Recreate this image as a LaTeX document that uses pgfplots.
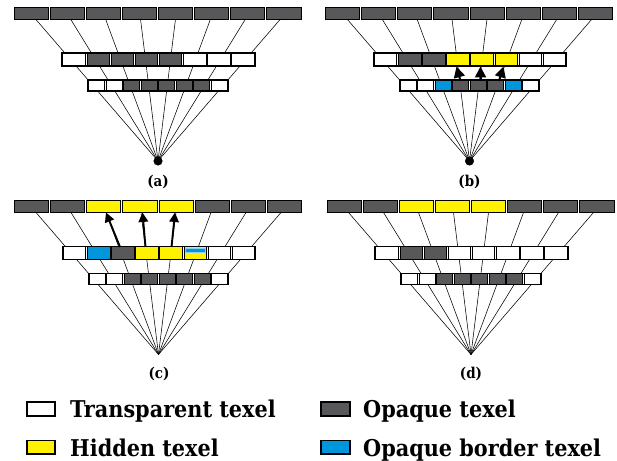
\documentclass[border=0pt]{standalone}
\usepackage{fontspec}
\setmainfont{DejaVu Serif Condensed}
\usepackage{pgfplots}
\pgfplotsset{compat=1.18}
\usetikzlibrary{arrows.meta}
\definecolor{G}{HTML}{58585A}
\definecolor{Y}{HTML}{FFF200}
\definecolor{B}{HTML}{0096DB}
\definecolor{W}{HTML}{FFFFFF}

% rectangle from axis coordinates
\newcommand\rect[6]{%
  \edef\myplottmp{\noexpand\addplot[fill=#5,draw=black,line width=#6] coordinates {(#1,#2) (#3,#2) (#3,#4) (#1,#4)} -- cycle;}\myplottmp}
\newcommand\frm[5]{%
  \edef\myplottmp{\noexpand\addplot[draw=black,line width=#5] coordinates {(#1,#2) (#3,#2) (#3,#4) (#1,#4)} -- cycle;}\myplottmp}
% row of cells: x0, pitch, gap, ytop, ybot, colours, line width
\newcommand\drawrow[7]{%
  \def\rowi{0}%
  \pgfplotsforeachungrouped \c in {#6}{%
    \pgfmathsetmacro\xa{#1+\rowi*#2+#3/2}%
    \pgfmathsetmacro\xb{#1+(\rowi+1)*#2-#3/2}%
    \rect{\xa}{#4}{\xb}{#5}{\c}{#7}%
    \pgfmathsetmacro\rowi{\rowi+1}%
  }}
% panel: dx, dy, top, middle, bottom colours, dot
\newcommand\panel[6]{%
  \pgfmathsetmacro\ax{158+#1}\pgfmathsetmacro\ay{161+#2}%
  \pgfmathsetmacro\ty{19+#2}%
  \pgfplotsforeachungrouped \i in {0,...,7}{%
    \pgfmathsetmacro\tx{158+(\i-3.5)*35+#1}%
    \edef\myplottmp{\noexpand\addplot[black,line width=0.55pt] coordinates {(\ax,\ay) (\tx,\ty)};}\myplottmp}%
  % top row
  \pgfmathsetmacro\ya{7+#2}\pgfmathsetmacro\yb{19+#2}\pgfmathsetmacro\xo{13+#1}%
  \drawrow{\xo}{36.125}{2}{\ya}{\yb}{#3}{0.8pt}%
  % middle row
  \pgfmathsetmacro\ya{53+#2}\pgfmathsetmacro\yb{66+#2}\pgfmathsetmacro\xo{62+#1}\pgfmathsetmacro\xe{255+#1}%
  \drawrow{\xo}{24.125}{1.6}{\ya}{\yb}{#4}{0.8pt}%
  \frm{\xo}{\ya}{\xe}{\yb}{1.5pt}%
  % bottom row
  \pgfmathsetmacro\ya{80+#2}\pgfmathsetmacro\yb{91+#2}\pgfmathsetmacro\xo{88+#1}\pgfmathsetmacro\xe{228+#1}%
  \drawrow{\xo}{17.5}{1.5}{\ya}{\yb}{#5}{0.8pt}%
  \frm{\xo}{\ya}{\xe}{\yb}{1.5pt}%
  \ifnum#6=1
    \edef\myplottmp{\noexpand\addplot[only marks,mark=*,mark size=4.3pt,black] coordinates {(\ax,\ay)};}\myplottmp
  \fi}

\begin{document}
\begin{tikzpicture}
\begin{axis}[x=1bp, y=1bp, y dir=reverse, xmin=0, xmax=617, ymin=0, ymax=461,
  hide axis, clip=false]
\addplot[draw=none] coordinates {(0,0) (617,461)};
% (a)
\panel{0}{0}{G,G,G,G,G,G,G,G}{W,G,G,G,G,W,W,W}{W,W,G,G,G,G,G,W}{1}
% (b)
\panel{311.5}{0}{G,G,G,G,G,G,G,G}{W,G,G,Y,Y,Y,W,W}{W,W,B,G,G,G,B,W}{1}
% (c)
\panel{0.5}{193.5}{G,G,Y,Y,Y,G,G,G}{W,B,G,Y,Y,Y,W,W}{W,W,G,G,G,G,G,W}{0}
\addplot[fill=B,draw=B!45,line width=0.5pt] coordinates {(185.5,248.5) (204.8,248.5) (204.8,252.5) (185.5,252.5)} -- cycle;
% (d)
\panel{313}{193.5}{G,G,Y,Y,Y,G,G,G}{W,G,G,W,W,W,W,W}{W,W,G,G,G,G,G,W}{0}
% arrows (b)
\addplot[black,line width=2pt,-{Triangle[length=11pt,width=11pt]}] coordinates {(460.5,81) (456.5,66.5)};
\addplot[black,line width=2pt,-{Triangle[length=11pt,width=11pt]}] coordinates {(480.5,81) (480.5,66.5)};
\addplot[black,line width=2pt,-{Triangle[length=11pt,width=11pt]}] coordinates {(499,81) (503.5,66.5)};
% arrows (c)
\addplot[black,line width=1.9pt,-{Triangle[length=9.5pt,width=9.5pt]}] coordinates {(120,247) (106,212.5)};
\addplot[black,line width=1.9pt,-{Triangle[length=9.5pt,width=9.5pt]}] coordinates {(145.5,247) (142.5,212.5)};
\addplot[black,line width=1.9pt,-{Triangle[length=9.5pt,width=9.5pt]}] coordinates {(171.5,247) (175,212.5)};
% panel labels
\node[font=\bfseries\fontsize{15}{16}\selectfont] at (axis cs:158,182) {(a)};
\node[font=\bfseries\fontsize{15}{16}\selectfont] at (axis cs:469.5,182) {(b)};
\node[font=\bfseries\fontsize{15}{16}\selectfont] at (axis cs:159,374) {(c)};
\node[font=\bfseries\fontsize{15}{16}\selectfont] at (axis cs:471,374) {(d)};
% legend
\rect{27}{402}{55}{416}{W}{1.3pt}
\rect{27}{440.5}{55}{454}{Y}{1.3pt}
\rect{321}{402}{350}{416}{G}{1.3pt}
\rect{321}{440.5}{350}{454}{B}{1.3pt}
\node[anchor=base west,inner sep=0pt,font=\bfseries\fontsize{23.2}{24}\selectfont] at (axis cs:70,417) {Transparent texel};
\node[anchor=base west,inner sep=0pt,font=\bfseries\fontsize{23.2}{24}\selectfont] at (axis cs:70,456) {Hidden texel};
\node[anchor=base west,inner sep=0pt,font=\bfseries\fontsize{23.2}{24}\selectfont] at (axis cs:363,417) {Opaque texel};
\node[anchor=base west,inner sep=0pt,font=\bfseries\fontsize{23.2}{24}\selectfont] at (axis cs:363,456) {Opaque border texel};
\end{axis}
\end{tikzpicture}
\end{document}
